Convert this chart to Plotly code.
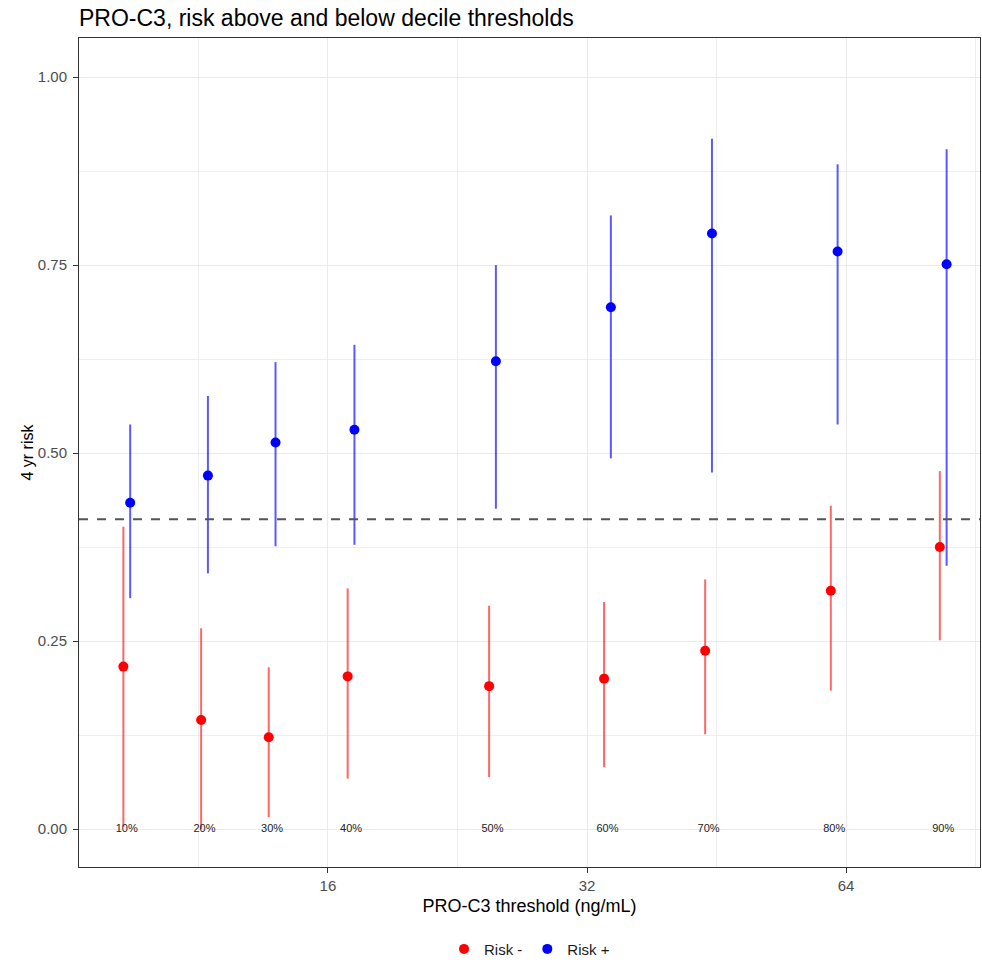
import math
import plotly.graph_objects as go

# ---- data ----
decile_labels = ["10%", "20%", "30%", "40%", "50%", "60%", "70%", "80%", "90%"]
thresholds = [9.34, 11.50, 13.78, 17.02, 24.85, 33.8, 44.3, 62.0, 83.0]

risk_minus = [0.216, 0.145, 0.122, 0.203, 0.190, 0.200, 0.237, 0.317, 0.375]
risk_minus_lo = [0.003, 0.000, 0.016, 0.067, 0.069, 0.082, 0.126, 0.184, 0.251]
risk_minus_hi = [0.402, 0.267, 0.215, 0.320, 0.297, 0.302, 0.332, 0.430, 0.476]

risk_plus = [0.434, 0.470, 0.514, 0.531, 0.622, 0.694, 0.792, 0.768, 0.751]
risk_plus_lo = [0.307, 0.340, 0.376, 0.378, 0.426, 0.493, 0.474, 0.538, 0.350]
risk_plus_hi = [0.538, 0.576, 0.621, 0.644, 0.750, 0.816, 0.918, 0.884, 0.904]

overall_risk = 0.412
x_ticks = [16, 32, 64]
y_ticks = [0.0, 0.25, 0.5, 0.75, 1.0]

# ---- styling ----
DODGE = 2 ** 0.0131  # position dodge in log2 space
x_minus = [t / DODGE for t in thresholds]
x_plus = [t * DODGE for t in thresholds]

x_min_log2, x_max_log2 = 3.039, 6.517
x_range = [x_min_log2 * math.log10(2), x_max_log2 * math.log10(2)]
minor_x = [2 ** (math.log2(v) - 0.5) for v in x_ticks] + [2 ** (math.log2(x_ticks[-1]) + 0.5)]

FONT = "Liberation Sans"

fig = go.Figure()

fig.add_trace(go.Scatter(
    x=x_minus, y=risk_minus, mode="markers", name="Risk -",
    marker=dict(color="#FF0000", size=10),
    error_y=dict(type="data", symmetric=False,
                 array=[h - m for h, m in zip(risk_minus_hi, risk_minus)],
                 arrayminus=[m - l for m, l in zip(risk_minus, risk_minus_lo)],
                 color="rgba(255,0,0,0.6)", thickness=2, width=0),
))
fig.add_trace(go.Scatter(
    x=x_plus, y=risk_plus, mode="markers", name="Risk +",
    marker=dict(color="#0000FF", size=10),
    error_y=dict(type="data", symmetric=False,
                 array=[h - m for h, m in zip(risk_plus_hi, risk_plus)],
                 arrayminus=[m - l for m, l in zip(risk_plus, risk_plus_lo)],
                 color="rgba(0,0,255,0.65)", thickness=2, width=0),
))
fig.add_trace(go.Scatter(
    x=thresholds, y=[0] * len(thresholds), mode="text", text=decile_labels,
    textfont=dict(size=11, color="#222222", family=FONT),
    showlegend=False, hoverinfo="skip",
))

fig.add_shape(type="line", xref="paper", x0=0, x1=1, yref="y",
              y0=overall_risk, y1=overall_risk,
              line=dict(color="#555555", width=1.8, dash="dash"), layer="above")

fig.update_layout(
    width=982, height=971,
    margin=dict(l=79, r=2, t=38, b=104),
    paper_bgcolor="white", plot_bgcolor="white",
    font=dict(family=FONT, color="#1a1a1a"),
    title=dict(text="PRO-C3, risk above and below decile thresholds",
               xref="paper", x=0, xanchor="left", y=0.9815, yanchor="middle",
               font=dict(size=23, color="#000000")),
    legend=dict(orientation="h", x=0.5, xanchor="center", y=-0.119, yanchor="bottom",
                font=dict(size=15, color="#1a1a1a")),
)

fig.update_xaxes(
    type="log", range=x_range, automargin=False,
    tickvals=x_ticks, ticktext=[str(v) for v in x_ticks],
    tickfont=dict(size=15, color="#4D4D4D"),
    ticks="outside", ticklen=5, tickcolor="#333333",
    showgrid=True, gridcolor="#EBEBEB", gridwidth=1,
    minor=dict(tickvals=minor_x, showgrid=True, gridcolor="#EFEFEF", gridwidth=1, ticks=""),
    showline=True, linecolor="#333333", linewidth=1, mirror=True,
    zeroline=False,
    title=dict(text="PRO-C3 threshold (ng/mL)", font=dict(size=18, color="#000000"), standoff=6),
)
fig.update_yaxes(
    range=[-0.0505, 1.052], automargin=False,
    tickvals=y_ticks, ticktext=["%.2f" % v for v in y_ticks],
    tickfont=dict(size=15, color="#4D4D4D"),
    ticks="outside", ticklen=5, tickcolor="#333333", ticklabelstandoff=3,
    showgrid=True, gridcolor="#EBEBEB", gridwidth=1,
    minor=dict(dtick=0.125, tick0=0.125, showgrid=True, gridcolor="#EFEFEF", gridwidth=1, ticks=""),
    showline=True, linecolor="#333333", linewidth=1, mirror=True,
    zeroline=False,
    title=dict(text="4 yr risk", font=dict(size=16, color="#000000"), standoff=0),
)

fig.write_html("out.html", config={"displayModeBar": False},
               post_script="document.body.style.margin='0';document.body.style.overflow='hidden';")
